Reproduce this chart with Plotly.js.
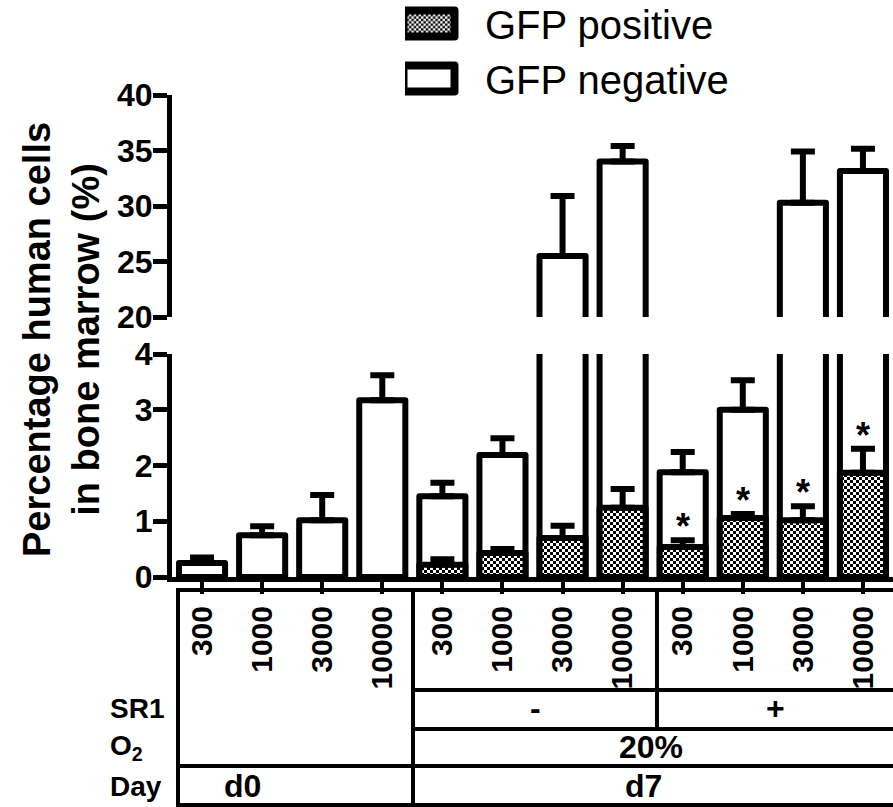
<!DOCTYPE html>
<html>
<head>
<meta charset="utf-8">
<script src="https://cdn.plot.ly/plotly-3.0.1.min.js"></script>
<style>
  html, body { margin: 0; padding: 0; background: #fff; }
  #chart { width: 893px; height: 807px; }
</style>
</head>
<body>
<div id="chart"></div>
<script>
// Cell dose per group (d0, d7 SR1-, d7 SR1+)
const doses = ['300', '1000', '3000', '10000', '300', '1000', '3000', '10000', '300', '1000', '3000', '10000'];
// GFP negative (open bars): mean and SEM
const negValues = [0.25, 0.75, 1.02, 3.17, 1.45, 2.19, 25.5, 34.0, 1.88, 3.0, 30.3, 33.15];
const negErrors = [0.10, 0.16, 0.45, 0.45, 0.24, 0.30, 5.4, 1.4, 0.36, 0.53, 4.6, 2.0];
// GFP positive (checkered bars): mean and SEM, none at d0
const posValues = [null, null, null, null, 0.22, 0.43, 0.70, 1.24, 0.54, 1.06, 1.02, 1.87];
const posErrors = [null, null, null, null, 0.10, 0.07, 0.22, 0.34, 0.12, 0.07, 0.25, 0.43];
// significance marks on GFP positive bars
const posStars = ['', '', '', '', '', '', '', '', '*', '*', '*', '*'];

const W = 893, H = 807;
const px = v => v / W;          // pixel column -> paper x
const py = v => 1 - v / H;      // pixel row -> paper y
const FONT = 'Liberation Sans, Arial, sans-serif';
const NARROW = 'Liberation Sans Narrow, Arial Narrow, Liberation Sans, sans-serif';
const idx = doses.map((_, i) => i);
const zeros = doses.map(() => 0);

const barLine = { color: '#000', width: 6 };
const errStyle = (arr) => ({
  type: 'data', symmetric: false, array: arr, arrayminus: zeros,
  color: '#000', thickness: 6, width: 12, visible: true
});

const negLower = {
  type: 'bar', name: 'GFP negative', x: idx, y: negValues,
  xaxis: 'x', yaxis: 'y', legendrank: 2,
  marker: { color: '#fff', line: barLine },
  error_y: errStyle(negErrors), hoverinfo: 'skip'
};
const posLower = {
  type: 'bar', name: 'GFP positive', x: idx, y: posValues,
  xaxis: 'x', yaxis: 'y', legendrank: 1,
  marker: { color: '#fff', line: barLine,
            pattern: { shape: '.', fgcolor: '#000', bgcolor: '#fff', size: 6, solidity: 0.5 } },
  error_y: errStyle(posErrors), hoverinfo: 'skip'
};
const negUpper = {
  type: 'bar', name: 'GFP negative', x: idx, y: negValues,
  xaxis: 'x', yaxis: 'y2', showlegend: false,
  marker: { color: '#fff', line: barLine },
  error_y: errStyle(negErrors), hoverinfo: 'skip'
};

const tickFont = { family: FONT, size: 32, color: '#000', weight: 'bold' };

const annotations = [];
posStars.forEach((s, i) => {
  if (!s) return;
  annotations.push({
    x: i, y: posValues[i] + posErrors[i], xref: 'x', yref: 'y',
    text: s, showarrow: false, yanchor: 'bottom', yshift: -9,
    font: { family: FONT, size: 36, color: '#000', weight: 'bold' }
  });
});

// axis title spanning both panels
annotations.push({
  x: px(62), y: py(340), xref: 'paper', yref: 'paper',
  text: 'Percentage human cells<br>in bone marrow (%)', textangle: -90,
  showarrow: false, xanchor: 'center', yanchor: 'middle',
  font: { family: FONT, size: 38, color: '#000', weight: 'bold' }
});

// table row labels and group labels
const rowFont = { family: FONT, size: 28, color: '#000', weight: 'bold' };
const grpFont = { family: NARROW, size: 32, color: '#000', weight: 'bold' };
const addText = (text, x, y, font, anchor) => annotations.push({
  x: px(x), y: py(y), xref: 'paper', yref: 'paper', text: text,
  showarrow: false, xanchor: anchor || 'center', yanchor: 'middle', font: font
});
addText('SR1', 108, 708, rowFont, 'left');
addText('O<sub>2</sub>', 108, 747, rowFont, 'left');
addText('Day', 108, 786, rowFont, 'left');
addText('-', 535, 708, grpFont);
addText('+', 775, 708, grpFont);
addText('20%', 651, 747, grpFont);
addText('d0', 243, 786, grpFont);
addText('d7', 643, 786, grpFont);

const line = (x0, y0, x1, y1) => ({
  type: 'line', xref: 'paper', yref: 'paper',
  x0: px(x0), y0: py(y0), x1: px(x1), y1: py(y1),
  line: { color: '#000', width: 4 }
});
const shapes = [
  line(178, 590, 893, 590),
  line(178, 805, 893, 805),
  line(178, 588, 178, 807),
  line(413, 590, 413, 807),
  line(657, 590, 657, 729),
  line(413, 690, 893, 690),
  line(413, 729, 893, 729),
  line(178, 766, 893, 766)
];

const layout = {
  width: W, height: H,
  margin: { l: 0, r: 0, t: 0, b: 0 },
  paper_bgcolor: '#fff', plot_bgcolor: 'rgba(0,0,0,0)',
  barmode: 'overlay', bargap: 0.233,
  font: { family: FONT, color: '#000' },
  xaxis: {
    domain: [px(172), 1], range: [-0.5, 11.5], anchor: 'y',
    tickmode: 'array', tickvals: idx, ticktext: doses, tickangle: -90,
    showline: true, linecolor: '#000', linewidth: 5,
    ticks: 'outside', ticklen: 12, tickwidth: 4, tickcolor: '#000',
    tickfont: { family: FONT, size: 30, color: '#000', weight: 'bold' },
    showgrid: false, zeroline: false, fixedrange: true
  },
  yaxis: {
    domain: [py(577), py(354)], range: [0, 4], anchor: 'x',
    tickmode: 'linear', tick0: 0, dtick: 1,
    showline: true, linecolor: '#000', linewidth: 5,
    ticks: 'outside', ticklen: 14, tickwidth: 5, tickcolor: '#000',
    ticklabelstandoff: -6,
    tickfont: tickFont, showgrid: false, zeroline: false, fixedrange: true
  },
  yaxis2: {
    domain: [py(317), py(95)], range: [20, 40], anchor: 'x',
    tickmode: 'linear', tick0: 20, dtick: 5,
    showline: true, linecolor: '#000', linewidth: 5,
    ticks: 'outside', ticklen: 14, tickwidth: 5, tickcolor: '#000',
    ticklabelstandoff: -6,
    tickfont: tickFont, showgrid: false, zeroline: false, fixedrange: true
  },
  showlegend: true,
  legend: {
    x: px(405), y: 1, xanchor: 'left', yanchor: 'top',
    bgcolor: 'rgba(0,0,0,0)', borderwidth: 0, itemwidth: 70,
    font: { family: FONT, size: 40, color: '#000' },
    tracegroupgap: 0
  },
  annotations: annotations,
  shapes: shapes
};

const gd = document.getElementById('chart');
Plotly.newPlot(gd, [negLower, negUpper, posLower], layout, { displayModeBar: false, staticPlot: true })
  .then(() => {
    // checkerboard fill for the GFP positive bars
    gd.querySelectorAll('pattern').forEach(p => {
      p.setAttribute('width', 6);
      p.setAttribute('height', 6);
      p.setAttribute('patternUnits', 'userSpaceOnUse');
      p.innerHTML = '<rect width="6" height="6" fill="#fff"/>' +
        '<rect width="3" height="3" fill="#000"/>' +
        '<rect x="3" y="3" width="3" height="3" fill="#000"/>';
    });
    // larger legend swatches
    gd.querySelectorAll('.legendpoints path').forEach(p => {
      p.setAttribute('d', 'M9.5,13H-41.5V-13H9.5Z');
      p.style.strokeWidth = '8px';
      p.style.strokeLinejoin = 'round';
    });
    // nudge the legend block up, tight to the top edge
    const lg = gd.querySelector('g.legend');
    if (lg) {
      const m = /translate\(\s*([-\d.]+)[ ,]+([-\d.]+)\s*\)/.exec(lg.getAttribute('transform') || '');
      if (m) lg.setAttribute('transform', 'translate(' + m[1] + ',' + (parseFloat(m[2]) - 9) + ')');
    }
    gd.querySelectorAll('.bars path').forEach(p => { p.style.strokeLinejoin = 'round'; });
  });
</script>
</body>
</html>
